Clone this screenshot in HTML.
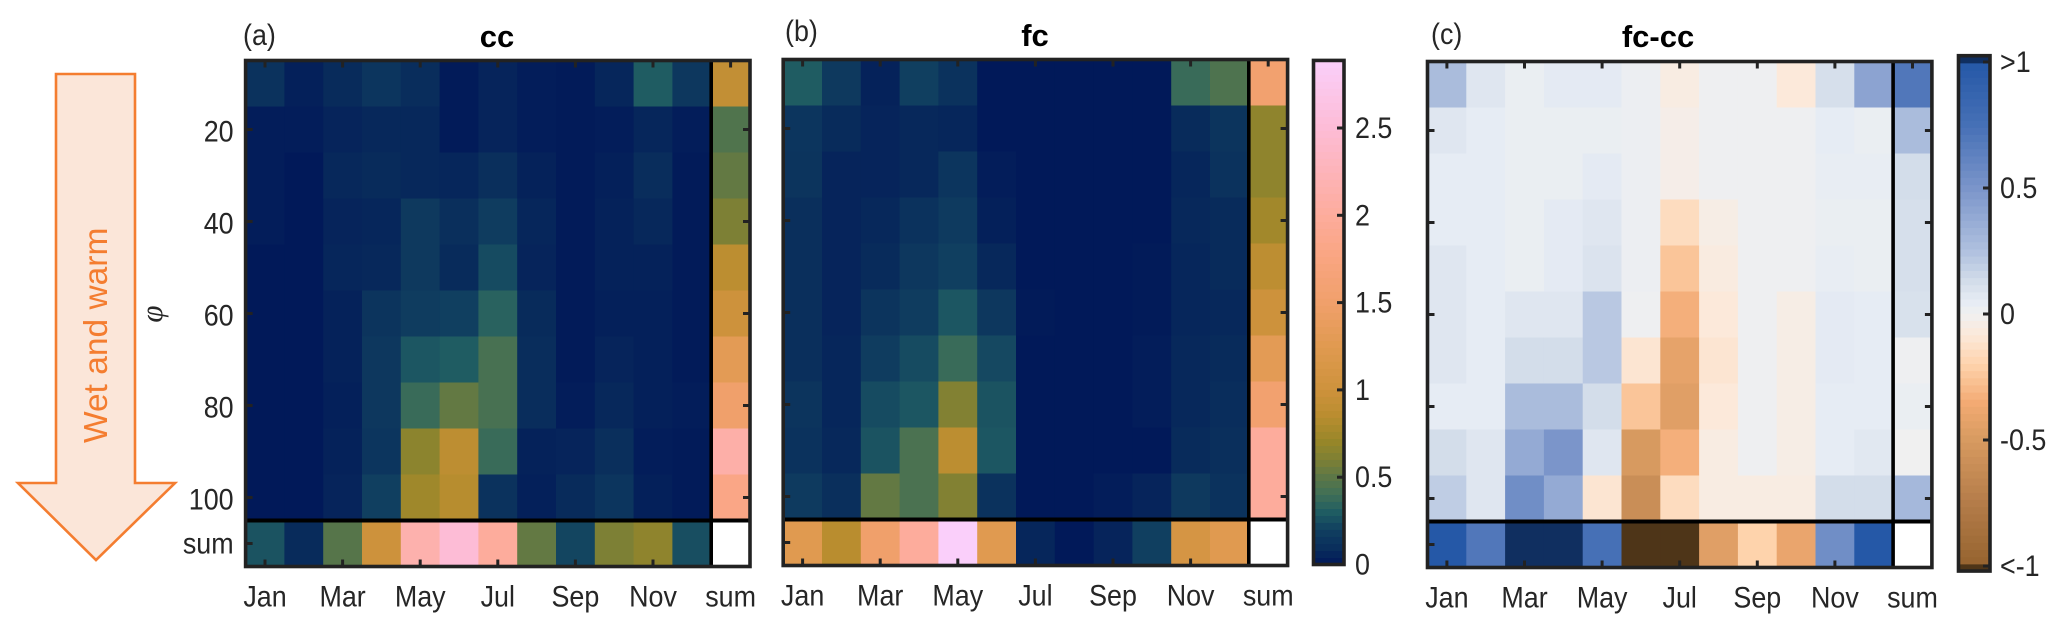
<!DOCTYPE html>
<html lang="en">
<head>
<meta charset="utf-8">
<title>cc, fc and fc-cc heatmaps</title>
<style>
html,body{margin:0;padding:0;background:#fff;}
svg{display:block;font-family:"Liberation Sans",sans-serif;}
text{fill:#262626;}
</style>
</head>
<body>
<svg id="figure" xmlns="http://www.w3.org/2000/svg" width="2067" height="633" viewBox="0 0 2067 633">
  <g>
    <polygon points="56,74 135,74 135,483 175,483 96,560 18,483 56,483" fill="#fbe6d9" stroke="#f47d30" stroke-width="2.6"/>
    <text transform="translate(107,443) rotate(-90)" font-size="33.5" style="fill:#f47d30">Wet and warm</text>
  </g>
  <text transform="translate(162,314) rotate(-90)" text-anchor="middle" font-size="31" font-style="italic" style="font-family:'Liberation Serif',serif">φ</text>
  <text transform="translate(243,45) scale(.96,1.07)" font-size="28">(a)</text>
  <text x="497" y="47" font-size="31" font-weight="bold" text-anchor="middle" style="fill:#000">cc</text>
  <text transform="translate(785,41) scale(.96,1.07)" font-size="28">(b)</text>
  <text x="1035" y="46" font-size="31" font-weight="bold" text-anchor="middle" style="fill:#000">fc</text>
  <text transform="translate(1431,44) scale(.96,1.07)" font-size="28">(c)</text>
  <text x="1658" y="47" font-size="31" font-weight="bold" text-anchor="middle" style="fill:#000">fc-cc</text>
</svg>
<script>
const monthTicks = ['Jan','Mar','May','Jul','Sep','Nov','sum'];
const phiRows = [10,20,30,40,50,60,70,80,90,100];
const phiTicks = [20,40,60,80,100];
const sumRowLabel = 'sum';
const cbarTicksAB = [0,0.5,1,1.5,2,2.5];
const cbarLabelsAB = ['0','0.5','1','1.5','2','2.5'];
const cbarTicksC = [-1,-0.5,0,0.5,1];
const cbarLabelsC = ['<-1','-0.5','0','0.5','>1'];

const ccValues = [
 [.12,.03,.08,.14,.09,.01,.05,.02,.01,.06,.30,.15],
 [.02,.02,.05,.07,.07,.01,.05,.02,.01,.02,.06,.02],
 [.02,.00,.07,.08,.07,.06,.10,.04,.01,.03,.09,.01],
 [.02,.00,.05,.06,.16,.10,.18,.06,.01,.04,.07,.01],
 [.00,.00,.06,.07,.16,.08,.24,.05,.01,.04,.04,.01],
 [.00,.00,.04,.13,.18,.20,.33,.08,.01,.03,.03,.01],
 [.00,.00,.04,.15,.28,.30,.43,.09,.01,.05,.03,.01],
 [.00,.00,.03,.15,.38,.52,.43,.09,.02,.07,.03,.02],
 [.00,.00,.04,.14,.66,.88,.38,.04,.05,.10,.02,.01],
 [.00,.00,.05,.20,.74,.84,.12,.03,.08,.14,.03,.01]
];
const ccSumCol = [.92,.46,.52,.60,.87,1.0,1.3,1.5,2.1,1.8];
const ccSumRow = [.27,.08,.48,1.0,2.15,2.5,2.0,.52,.22,.60,.67,.25];

const fcValues = [
 [.30,.16,.04,.20,.12,.00,.00,.00,.00,.00,.38,.45],
 [.14,.08,.05,.07,.06,.00,.00,.00,.00,.00,.08,.13],
 [.13,.05,.05,.07,.14,.02,.00,.00,.00,.00,.06,.12],
 [.10,.05,.07,.12,.17,.03,.00,.00,.00,.00,.07,.08],
 [.10,.05,.08,.15,.20,.07,.00,.00,.00,.01,.06,.08],
 [.10,.05,.13,.18,.28,.15,.01,.00,.00,.01,.06,.07],
 [.10,.06,.18,.24,.38,.23,.00,.00,.00,.02,.07,.08],
 [.13,.06,.24,.28,.62,.27,.00,.00,.00,.02,.07,.09],
 [.12,.07,.27,.44,.87,.28,.00,.00,.00,.00,.08,.10],
 [.17,.10,.52,.44,.62,.12,.00,.00,.02,.05,.16,.12]
];
const fcSumCol = [1.55,.67,.67,.75,.88,1.0,1.3,1.55,2.0,2.0];
const fcSumRow = [1.25,.85,1.5,2.0,2.887,1.25,.06,.00,.05,.20,1.1,1.25];

const diffValues = [
 [.28,.08,.03,.06,.06,.02,-.05,.01,.01,-.08,.12,.42],
 [.08,.05,.03,.03,.03,.02,-.03,.01,.01,.01,.05,.03],
 [.05,.05,.03,.03,.06,.02,-.03,.01,.01,.01,.04,.04],
 [.05,.05,.03,.06,.08,.02,-.15,-.04,.01,.01,.03,.03],
 [.08,.05,.03,.06,.10,.02,-.25,-.06,.01,.01,.04,.03],
 [.08,.05,.08,.08,.22,.01,-.33,-.08,.01,-.04,.06,.05],
 [.08,.05,.13,.13,.22,-.10,-.42,-.10,.01,-.04,.06,.05],
 [.05,.05,.28,.28,.13,-.25,-.45,-.08,.01,-.04,.05,.05],
 [.13,.08,.38,.50,.08,-.50,-.33,-.05,.01,-.04,.05,.07],
 [.20,.08,.55,.38,-.10,-.60,-.15,-.05,-.05,-.05,.13,.13]
];
const diffSumCol = [.70,.28,.13,.12,.12,.11,.01,.03,.00,.30];
const diffSumRow = [1.0,.70,1.2,1.2,.75,-1.2,-1.2,-.45,-.20,-.40,.55,1.0];

const NS = 'http://www.w3.org/2000/svg';
const fig = document.getElementById('figure');
const INK = '#222222';

function mk(tag, parent, attrs, txt){
  const e = document.createElementNS(NS, tag);
  for (const k in attrs) e.setAttribute(k, attrs[k]);
  if (txt !== undefined) e.textContent = txt;
  parent.appendChild(e);
  return e;
}
function hex(h){return [1,3,5].map(i=>parseInt(h.substr(i,2),16));}
function ramp(stops, v){
  if (v <= stops[0][0]) return stops[0][1];
  for (let i = 1; i < stops.length; i++){
    if (v <= stops[i][0]){
      const t = (v-stops[i-1][0])/(stops[i][0]-stops[i-1][0]);
      const a = hex(stops[i-1][1]), b = hex(stops[i][1]);
      return 'rgb('+a.map((c,j)=>Math.round(c+(b[j]-c)*t)).join(',')+')';
    }
  }
  return stops[stops.length-1][1];
}
const rampAB = [[0,'#011959'],[.1,'#0a2f5c'],[.2,'#103f60'],[.3,'#1f5c62'],[.4,'#3f6f57'],[.5,'#5c7747'],[.6,'#7d8035'],[.7,'#968629'],[.85,'#b98d2f'],[1,'#cd923c'],[1.25,'#e09a50'],[1.5,'#f0a06b'],[1.75,'#f9a580'],[2,'#fdac9c'],[2.5,'#fdbcd6'],[2.887,'#facffa']];
const rampC = [[-1.0001,'#4e3518'],[-1,'#95632f'],[-.75,'#b47c49'],[-.5,'#d79a60'],[-.35,'#f3aa73'],[-.2,'#fed3ac'],[-.08,'#fce9da'],[0,'#f0f0f0'],[.05,'#e6ecf4'],[.12,'#d6dfeb'],[.25,'#b0c1df'],[.5,'#7b95ca'],[.75,'#4670b6'],[1,'#2558a7'],[1.0001,'#102f60']];
const colorAB = v => ramp(rampAB, v);
const colorC = v => ramp(rampC, v);
const labelTf = (px, py) => 'translate(' + px + ',' + py + ') scale(.96,1.07)';

function drawPanel(key, o, values, sumCol, sumRow, color){
  const x = i => o.left + o.cw * (i + 0.5);        // month index -> column centre
  const y = p => o.top + (p - 5) * 4.6;            // phi -> row centre
  const g = mk('g', fig, {});
  
  
  const rowH = 46;
  function cell(col, phi, val){
    const c = mk('rect', g, {x:x(col)-o.cw/2, y:y(phi)-rowH/2, width:o.cw+.4, height:rowH+.4, fill: val===null ? '#fff' : color(val)});
    
    
  }
  values.forEach((row, r) => {
    row.forEach((v, c) => cell(c, phiRows[r], v));
    cell(12, phiRows[r], sumCol[r]);
  });
  sumRow.forEach((v, c) => cell(c, 110, v));
  cell(12, 110, null);

  const rgt = o.left + o.cw * 13, bot = y(110) + rowH / 2;
  const vx = x(12) - o.cw / 2, hy = y(110) - rowH / 2;
  const dh = mk('line', g, {x1:o.left, x2:rgt, y1:hy, y2:hy, stroke:'#000', 'stroke-width':4});
  
  
  const dv = mk('line', g, {x1:vx, x2:vx, y1:o.top, y2:bot, stroke:'#000', 'stroke-width':3.6});
  
  

  const frame = mk('rect', g, {x:o.left, y:o.top, width:rgt-o.left, height:bot-o.top, fill:'none', stroke:INK, 'stroke-width':3.6});
  
  

  monthTicks.forEach((lab, n) => {
    const tx = x(n * 2);
    const t1 = mk('line', g, {x1:tx, x2:tx, y1:o.top, y2:o.top+7, stroke:INK, 'stroke-width':3});
    
    
    if (n < 6) {
      const t2 = mk('line', g, {x1:tx, x2:tx, y1:bot, y2:bot-7, stroke:INK, 'stroke-width':3});
      
      
    }
    const tl = mk('text', g, {transform:labelTf(tx, bot+40), 'font-size':28, 'text-anchor':'middle'}, lab);
    
    
  });
  phiTicks.concat([110]).forEach(p => {
    const ty = y(p);
    const t1 = mk('line', g, {x1:o.left, x2:o.left+7, y1:ty, y2:ty, stroke:INK, 'stroke-width':3});
    
    
    if (p !== 110) {
      const t2 = mk('line', g, {x1:rgt, x2:rgt-7, y1:ty, y2:ty, stroke:INK, 'stroke-width':3});
      
      
    }
    if (o.yLabels) {
      const tl = mk('text', g, {transform:labelTf(o.left-12, ty+(p===110?10:12)), 'font-size':28, 'text-anchor':'end'}, p===110 ? sumRowLabel : p);
      
      
    }
  });
}

function drawColorbar(key, o, ticks, labels, color){
  const g = mk('g', fig, {});
  
  
  const y = v => o.y0 + (v - o.v0) * o.k;         // value -> pixel
  const steps = 72;
  for (let i = 0; i < steps; i++){
    const a = o.vMin + (o.vMax - o.vMin) * i / steps;
    const b = o.vMin + (o.vMax - o.vMin) * (i + 1) / steps;
    const s = mk('rect', g, {x:o.left, y:y(b), width:o.right-o.left, height:Math.abs(y(a)-y(b))+.5, fill:color((a+b)/2)});
    
    
  }
  const f = mk('rect', g, {x:o.left, y:y(o.vMax), width:o.right-o.left, height:y(o.vMin)-y(o.vMax), fill:'none', stroke:INK, 'stroke-width':3.6});
  
  
  ticks.forEach((v, i) => {
    const t = mk('line', g, {x1:o.right, x2:o.right-7, y1:y(v), y2:y(v), stroke:INK, 'stroke-width':3});
    
    
    const l = mk('text', g, {transform:labelTf(o.labelX, y(v)+10), 'font-size':28}, labels[i]);
    
    
  });
}

drawPanel('cc', {left:245.6, top:60.5, cw:38.8, yLabels:true}, ccValues, ccSumCol, ccSumRow, colorAB);
drawPanel('fc', {left:783.2, top:59.5, cw:38.8}, fcValues, fcSumCol, fcSumRow, colorAB);
drawPanel('fc-cc', {left:1427.5, top:61.5, cw:38.8}, diffValues, diffSumCol, diffSumRow, colorC);
drawColorbar('colorbar-cc-fc', {left:1313.5, right:1344, y0:564.5, v0:0, k:-174.6, vMin:0, vMax:2.887, labelX:1355}, cbarTicksAB, cbarLabelsAB, colorAB);
drawColorbar('colorbar-fc-cc', {left:1958.5, right:1990, y0:314, v0:0, k:-252, vMin:-1.02, vMax:1.025, labelX:2000}, cbarTicksC, cbarLabelsC, colorC);
</script>
</body>
</html>
